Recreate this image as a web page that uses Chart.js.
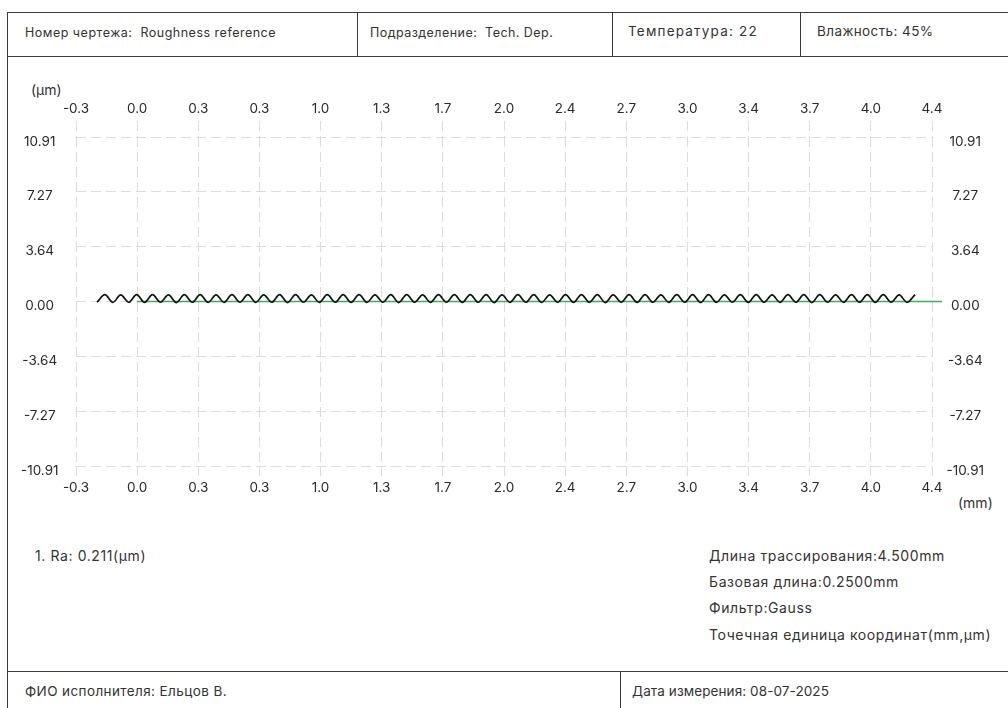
<!DOCTYPE html>
<html>
<head>
<meta charset="utf-8">
<script src="https://cdn.jsdelivr.net/npm/chart.js@4.4.1/dist/chart.umd.min.js"></script>
<style>
  body { margin: 0; background: #fff; }
  #page { position: relative; width: 1008px; height: 708px; overflow: hidden; background: #fff; }
  .t { position: absolute; font-family: Inter, "Noto Sans", sans-serif; font-size: 12.5px; color: #333; white-space: nowrap; line-height: 16px; }
  .big { font-size: 14px; letter-spacing: 0.6px; }
  .ln { position: absolute; background: #3c3c3c; }
  #chart { position: absolute; left: 0; top: 0; }
</style>
</head>
<body>
<div id="page">
  <!-- рамка -->
  <div class="ln" style="left:7px;top:12px;width:1001px;height:1px"></div>
  <div class="ln" style="left:7px;top:12px;width:1px;height:696px"></div>
  <div class="ln" style="left:7px;top:56px;width:1001px;height:1px"></div>
  <div class="ln" style="left:357px;top:12px;width:1px;height:44px"></div>
  <div class="ln" style="left:612px;top:12px;width:1px;height:44px"></div>
  <div class="ln" style="left:800px;top:12px;width:1px;height:44px"></div>
  <div class="ln" style="left:7px;top:671px;width:1001px;height:1px"></div>
  <div class="ln" style="left:620px;top:671px;width:1px;height:37px"></div>

  <!-- шапка -->
  <div class="t" style="left:25px;top:25px;letter-spacing:0.5px">Номер чертежа:&nbsp; Roughness reference</div>
  <div class="t" style="left:370px;top:25px;letter-spacing:0.45px">Подразделение:&nbsp; Tech. Dep.</div>
  <div class="t" style="left:628px;top:23px;font-size:13.5px;letter-spacing:1.2px">Температура: 22</div>
  <div class="t" style="left:817px;top:23px;font-size:13.5px;letter-spacing:0.4px">Влажность: 45%</div>

  <!-- подписи осей -->
  <div class="t" style="left:31px;top:82px;font-size:14px">(µm)</div>
  <div class="t" style="left:958px;top:495px;font-size:14px">(mm)</div>

  <!-- параметры -->
  <div class="t big" style="left:35px;top:548px">1. Ra: 0.211(µm)</div>
  <div class="t big" style="left:709px;top:548px">Длина трассирования:4.500mm</div>
  <div class="t big" style="left:709px;top:574px">Базовая длина:0.2500mm</div>
  <div class="t big" style="left:709px;top:600px">Фильтр:Gauss</div>
  <div class="t big" style="left:709px;top:627px">Точечная единица координат(mm,µm)</div>

  <!-- подвал -->
  <div class="t" style="left:25px;top:683px;font-size:13.5px;letter-spacing:0.4px">ФИО исполнителя: Ельцов В.</div>
  <div class="t" style="left:632px;top:683px;font-size:13.5px;letter-spacing:0.1px">Дата измерения: 08-07-2025</div>

  <canvas id="chart" width="1008" height="708"></canvas>
</div>

<script>
// Подписи осей
const xTickLabels = ['-0.3', '0.0', '0.3', '0.3', '1.0', '1.3', '1.7', '2.0', '2.4', '2.7', '3.0', '3.4', '3.7', '4.0', '4.4'];
const xMin = -0.3;
const xMax = 4.4;
const yTickValues = [10.91, 7.27, 3.64, 0, -3.64, -7.27, -10.91];
const yMin = -10.91;
const yMax = 10.91;

// Профиль, мкм: впадины и вершины по очереди (шаг выборки по x в мм)
const profileStart = -0.185;
const profileStep = 0.04361;
const profileY = [
  -0.05, 0.45, -0.06, 0.44, -0.05, 0.46, -0.06, 0.45,
  -0.05, 0.44, -0.07, 0.45, -0.05, 0.46, -0.06, 0.44,
  -0.06, 0.45, -0.05, 0.45, -0.06, 0.44, -0.05, 0.46,
  -0.07, 0.45, -0.05, 0.44, -0.06, 0.45, -0.05, 0.46,
  -0.06, 0.45, -0.06, 0.44, -0.05, 0.45, -0.07, 0.46,
  -0.05, 0.44, -0.06, 0.45, -0.05, 0.45, -0.06, 0.46,
  -0.05, 0.45, -0.07, 0.44, -0.06, 0.45, -0.05, 0.46,
  -0.06, 0.44, -0.05, 0.45, -0.06, 0.46, -0.05, 0.45,
  -0.07, 0.44, -0.05, 0.45, -0.06, 0.46, -0.05, 0.44,
  -0.06, 0.45, -0.05, 0.46, -0.07, 0.45, -0.06, 0.44,
  -0.05, 0.45, -0.06, 0.46, -0.05, 0.44, -0.06, 0.45,
  -0.05, 0.46, -0.07, 0.45, -0.05, 0.44, -0.06, 0.45,
  -0.05, 0.46, -0.06, 0.45, -0.05, 0.44, -0.06, 0.45
];

// Средняя линия
const meanX = [0.035, 4.455];
const meanY = [0, 0];

const gridColor = '#dcdcdc';
const gridDash = [10, 5];
const tickFont = { family: 'Inter, "Noto Sans", sans-serif', size: 13.5 };

const profileData = profileY.map((y, i) => ({ x: profileStart + i * profileStep, y: y }));
const meanData = meanX.map((x, i) => ({ x: x, y: meanY[i] }));

function evenTicks(scale) {
  const n = xTickLabels.length;
  scale.ticks = xTickLabels.map((l, i) => ({ value: xMin + i * (xMax - xMin) / (n - 1) }));
}
function yTicks(scale) {
  scale.ticks = yTickValues.map(v => ({ value: v }));
}

new Chart(document.getElementById('chart'), {
  type: 'line',
  data: {
    datasets: [
      {
        label: 'Профиль',
        data: profileData,
        borderColor: '#111',
        borderWidth: 1.7,
        pointRadius: 0,
        cubicInterpolationMode: 'monotone',
        fill: false
      },
      {
        label: 'Средняя линия',
        data: meanData,
        borderColor: '#3cae58',
        borderWidth: 1.3,
        pointRadius: 0,
        fill: false,
        clip: false
      }
    ]
  },
  options: {
    responsive: false,
    animation: false,
    events: [],
    layout: { padding: { top: 100, bottom: 202, left: 0, right: 0 } },
    plugins: { legend: { display: false }, tooltip: { enabled: false } },
    scales: {
      x: {
        type: 'linear',
        position: 'bottom',
        min: xMin,
        max: xMax,
        afterBuildTicks: evenTicks,
        afterFit: s => { s.height = 40; },
        grid: { color: gridColor, tickColor: gridColor, tickLength: 12, tickBorderDash: gridDash },
        border: { display: false, dash: gridDash },
        ticks: { padding: 2, color: '#2a2a2a', font: tickFont, maxRotation: 0, autoSkip: false,
          callback: (v, i) => xTickLabels[i] }
      },
      x2: {
        type: 'linear',
        position: 'top',
        min: xMin,
        max: xMax,
        afterBuildTicks: evenTicks,
        afterFit: s => { s.height = 37; },
        grid: { drawOnChartArea: false, color: gridColor, tickColor: gridColor, tickLength: 16, tickBorderDash: gridDash },
        border: { display: false, dash: gridDash },
        ticks: { padding: 4, color: '#2a2a2a', font: tickFont, maxRotation: 0, autoSkip: false,
          callback: (v, i) => xTickLabels[i] }
      },
      y: {
        position: 'left',
        min: yMin,
        max: yMax,
        afterBuildTicks: yTicks,
        afterFit: s => { s.width = 76; },
        grid: { color: gridColor, drawTicks: false },
        border: { display: false, dash: gridDash },
        ticks: { padding: 17.5, crossAlign: 'center', labelOffset: 4.5, color: '#2a2a2a', font: tickFont,
          callback: v => v.toFixed(2) }
      },
      y2: {
        position: 'right',
        min: yMin,
        max: yMax,
        afterBuildTicks: yTicks,
        afterFit: s => { s.width = 76; },
        grid: { display: false },
        border: { display: false },
        ticks: { padding: 6.5, crossAlign: 'center', labelOffset: 4.5, color: '#2a2a2a', font: tickFont,
          callback: v => v.toFixed(2) }
      }
    }
  }
});
</script>
</body>
</html>
